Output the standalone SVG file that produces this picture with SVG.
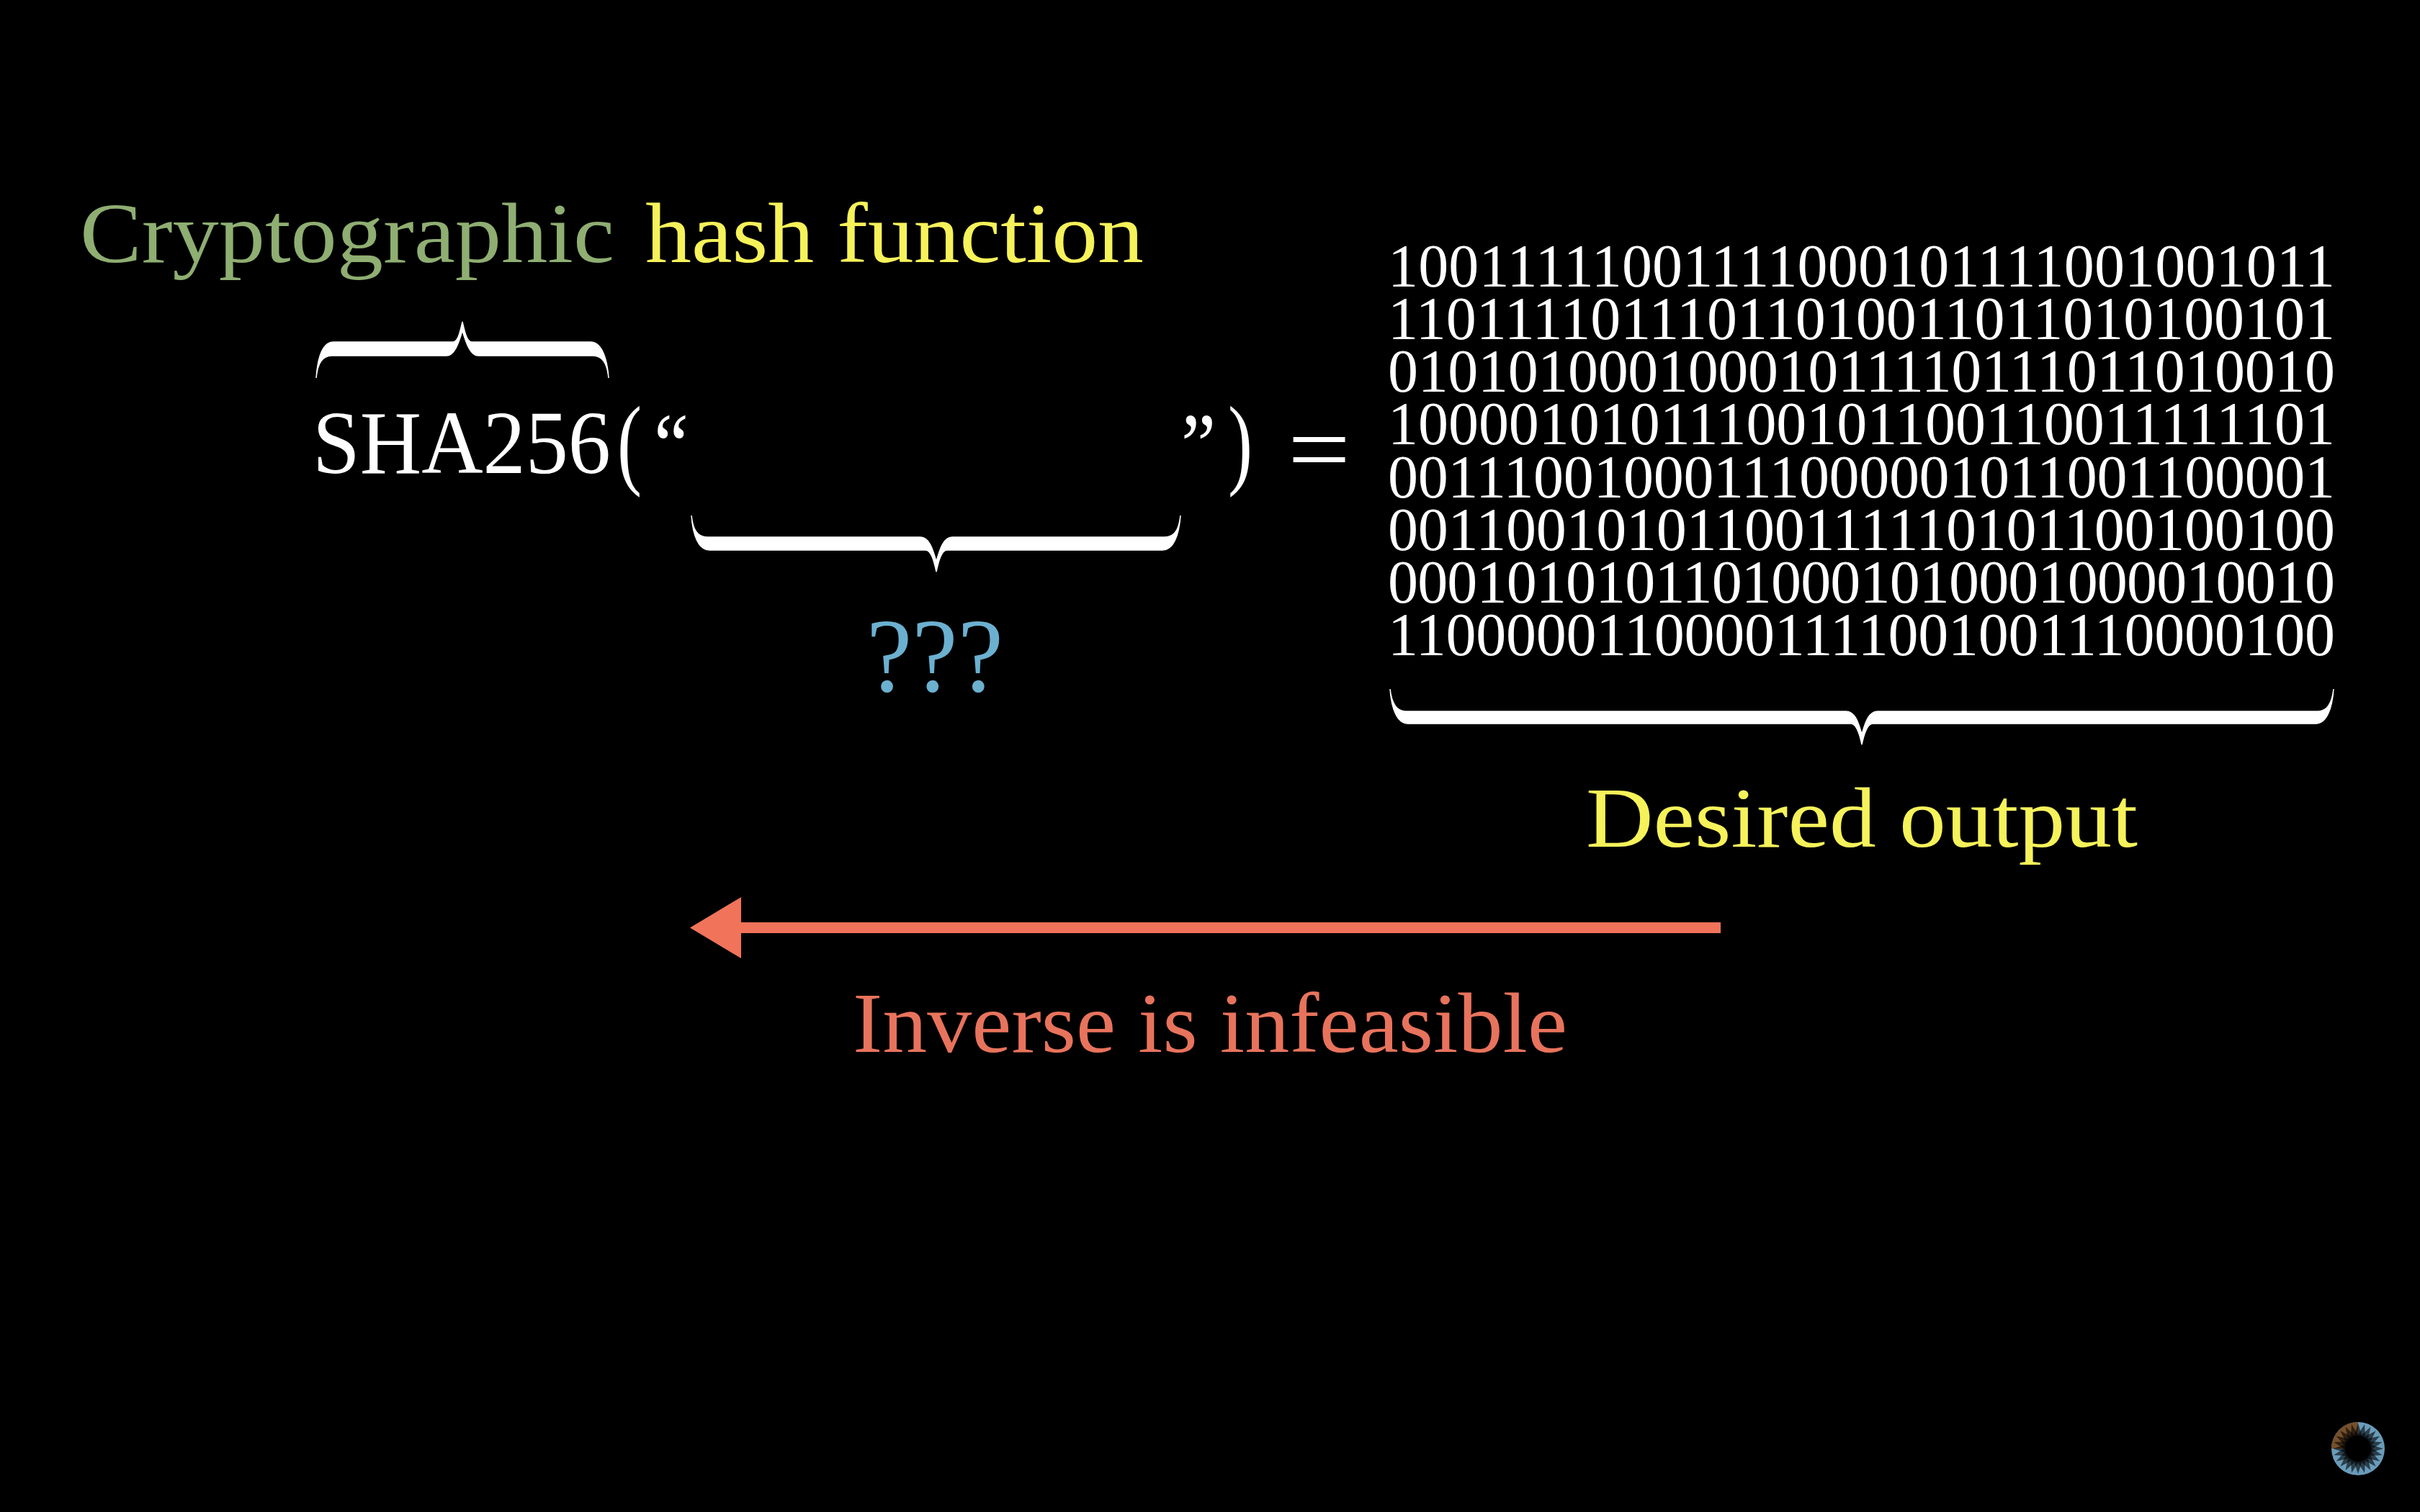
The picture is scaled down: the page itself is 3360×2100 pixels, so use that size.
<svg xmlns="http://www.w3.org/2000/svg" width="3360" height="2100" viewBox="0 0 3360 2100">
<style>
text{font-family:"Liberation Serif","Times New Roman",serif;fill:#fff}
.bits text{font-size:84px}
.brace{fill:#fff;stroke:#fff;stroke-width:1.5}
.lab{font-size:118px}
.green{fill:#8fae72}
.yellow{fill:#f6f25a}
.red{fill:#e8735c}
.blue{fill:#6cb0d0}
</style>
<defs>
<polygon id="tooth" points="-5.5,-18 5.5,-18 0,-35" fill="#000" fill-opacity="0.6"/>
</defs>
<rect width="3360" height="2100" fill="#000"/>
<g id="title">
<text class="lab green" x="111" y="364" textLength="742" lengthAdjust="spacingAndGlyphs">Cryptographic</text>
<text class="lab yellow" x="896" y="364" textLength="692" lengthAdjust="spacingAndGlyphs">hash function</text>
</g>
<g id="formula">
<text x="434" y="657" font-size="124" textLength="414" lengthAdjust="spacingAndGlyphs">SHA256</text>
<text x="857" y="661" font-size="140" textLength="34" lengthAdjust="spacingAndGlyphs">(</text>
<text x="908" y="660" font-size="124" textLength="48" lengthAdjust="spacingAndGlyphs">“</text>
<text x="1640" y="660" font-size="124" textLength="48" lengthAdjust="spacingAndGlyphs">”</text>
<text x="1705" y="661" font-size="140" textLength="34" lengthAdjust="spacingAndGlyphs">)</text>
<text x="1788" y="671" font-size="140" textLength="87" lengthAdjust="spacingAndGlyphs">=</text>
</g>
<g id="output" class="bits">
<text x="1927" y="398" textLength="1315">10011111001111000101111001001011</text>
<text x="1927" y="471" textLength="1315">11011110111011010011011010100101</text>
<text x="1927" y="544" textLength="1315">01010100010001011110111011010010</text>
<text x="1927" y="617" textLength="1315">10000101011100101100110011111101</text>
<text x="1927" y="691" textLength="1315">00111001000111000001011001100001</text>
<text x="1927" y="764" textLength="1315">00110010101100111110101100100100</text>
<text x="1927" y="837" textLength="1315">00010101011010001010001000010010</text>
<text x="1927" y="910" textLength="1315">11000001100001111001001110000100</text>
</g>
<g id="connectors">
<path id="brace-top" class="brace" d="M439 525 C441 505 447 494 461 494 L620 494 C630 494 636 480 642 459 C648 480 654 494 664 494 L823 494 C837 494 843 505 845 525 C843 497 835 475 820 475 L655 475 C648 475 645 460 642 447 C639 460 636 475 629 475 L463 475 C448 475 441 497 439 525 Z"/>
<path id="brace-input" class="brace" d="M960 716 C962 735 968 746 982 746 L1278 746 C1290 746 1295 762 1300 780 C1305 762 1310 746 1322 746 L1617 746 C1631 746 1637 735 1639 716 C1637 744 1629 764 1614 764 L1315 764 C1307 764 1303 780 1300 794 C1297 780 1293 764 1285 764 L985 764 C970 764 962 744 960 716 Z"/>
<path id="brace-output" class="brace" d="M1930 957 C1932 975 1938 988 1952 988 L2563 988 C2575 988 2580 1002 2585 1020 C2590 1002 2595 988 2607 988 L3218 988 C3232 988 3238 975 3240 957 C3238 985 3230 1005 3215 1005 L2600 1005 C2592 1005 2588 1020 2585 1034 C2582 1020 2578 1005 2570 1005 L1955 1005 C1940 1005 1932 985 1930 957 Z"/>
<path id="inverse-arrow" fill="#f0735a" d="M958 1288.500 L1029 1246 L1029 1281 L2389 1281 L2389 1296 L1029 1296 L1029 1331 Z"/>
</g>
<g id="unknown"><text class="blue" x="1203" y="960" font-size="146" textLength="190" lengthAdjust="spacingAndGlyphs">???</text></g>
<g id="desired"><text class="lab yellow" x="2202" y="1176" textLength="766" lengthAdjust="spacingAndGlyphs">Desired output</text></g>
<g id="inverse"><text class="lab red" x="1184" y="1461" textLength="992" lengthAdjust="spacingAndGlyphs">Inverse is infeasible</text></g>
<g id="spinner" transform="translate(3274 2012)">
<circle r="37" fill="#6a9cba"/>
<path d="M0 0 L-37 0 A37 37 0 0 1 0 -37 Z" fill="#75502c"/>
<g>
<use href="#tooth"/><use href="#tooth" transform="rotate(15)"/><use href="#tooth" transform="rotate(30)"/><use href="#tooth" transform="rotate(45)"/><use href="#tooth" transform="rotate(60)"/><use href="#tooth" transform="rotate(75)"/><use href="#tooth" transform="rotate(90)"/><use href="#tooth" transform="rotate(105)"/><use href="#tooth" transform="rotate(120)"/><use href="#tooth" transform="rotate(135)"/><use href="#tooth" transform="rotate(150)"/><use href="#tooth" transform="rotate(165)"/><use href="#tooth" transform="rotate(180)"/><use href="#tooth" transform="rotate(195)"/><use href="#tooth" transform="rotate(210)"/><use href="#tooth" transform="rotate(225)"/><use href="#tooth" transform="rotate(240)"/><use href="#tooth" transform="rotate(255)"/><use href="#tooth" transform="rotate(270)"/><use href="#tooth" transform="rotate(285)"/><use href="#tooth" transform="rotate(300)"/><use href="#tooth" transform="rotate(315)"/><use href="#tooth" transform="rotate(330)"/><use href="#tooth" transform="rotate(345)"/>
</g>
<circle r="18.5" fill="#000"/>
</g>
</svg>
